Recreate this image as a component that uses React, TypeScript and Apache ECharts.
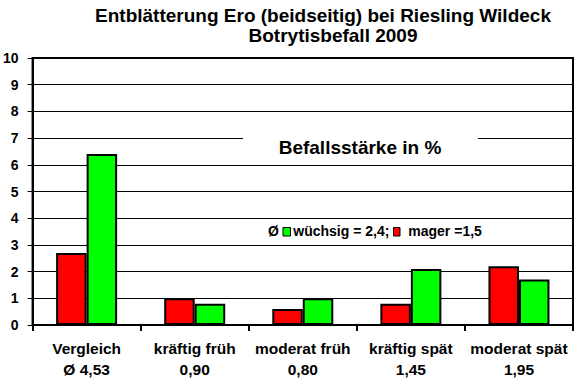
import React, { useEffect, useRef } from "react";
import * as echarts from "echarts";

const categories = ["Vergleich", "kräftig früh", "moderat früh", "kräftig spät", "moderat spät"];
const averages = ["Ø 4,53", "0,90", "0,80", "1,45", "1,95"];
const magerValues = [2.7, 1.0, 0.6, 0.8, 2.2];
const wuechsigValues = [6.4, 0.8, 1.0, 2.1, 1.7];
const titleLine1 = "Entblätterung Ero (beidseitig) bei Riesling Wildeck";
const titleLine2 = "Botrytisbefall 2009";
const boxText = "Befallsstärke in %";
const legendLabels = ["Ø", "wüchsig = 2,4;", "mager =1,5"];
const yMin = 0;
const yMax = 10;
const yInterval = 1;

const FONT = 'Arial, "Liberation Sans", sans-serif';

export default function App() {
  const ref = useRef<HTMLDivElement>(null);
  useEffect(() => {
    if (!ref.current) return;
    const chart = echarts.init(ref.current, null, { renderer: "svg" });
    const legendFont = `bold 14px ${FONT}`;
    chart.setOption({
      animation: false,
      backgroundColor: "#ffffff",
      textStyle: { fontFamily: FONT },
      grid: {
        left: 32,
        right: 7,
        top: 58,
        bottom: 64,
        show: true,
        borderColor: "#000",
        borderWidth: 2,
        backgroundColor: "transparent",
      },
      xAxis: {
        type: "category",
        data: categories,
        boundaryGap: true,
        axisLine: { show: true, lineStyle: { color: "#000", width: 2 } },
        axisTick: { show: true, length: 6, lineStyle: { color: "#000", width: 2 } },
        axisLabel: {
          color: "#000",
          fontFamily: FONT,
          fontWeight: "bold",
          fontSize: 15.5,
          lineHeight: 21,
          margin: 13,
          interval: 0,
          formatter: (v: string, i: number) => `${v}\n${averages[i]}`,
        },
        splitLine: { show: false },
      },
      yAxis: {
        type: "value",
        min: yMin,
        max: yMax,
        interval: yInterval,
        axisLine: { show: true, lineStyle: { color: "#000", width: 2 } },
        axisTick: { show: true, length: 5, lineStyle: { color: "#000", width: 1 } },
        axisLabel: {
          color: "#000",
          fontFamily: FONT,
          fontWeight: "bold",
          fontSize: 14,
          margin: 14,
        },
        splitLine: { show: true, lineStyle: { color: "#000", width: 1 } },
      },
      series: [
        {
          name: "mager",
          type: "bar",
          data: magerValues,
          barWidth: 30.5,
          barGap: "0%",
          itemStyle: { color: "#ff0000", borderColor: "#000", borderWidth: 2 },
        },
        {
          name: "wüchsig",
          type: "bar",
          data: wuechsigValues,
          barWidth: 30.5,
          barGap: "0%",
          itemStyle: { color: "#00ff00", borderColor: "#000", borderWidth: 2 },
        },
      ],
      graphic: [
        {
          type: "text",
          x: 323,
          y: 15.5,
          style: {
            text: titleLine1,
            fill: "#000",
            font: `bold 19px ${FONT}`,
            textAlign: "center",
            textVerticalAlign: "middle",
          },
        },
        {
          type: "text",
          x: 333,
          y: 35,
          style: {
            text: titleLine2,
            fill: "#000",
            font: `bold 19px ${FONT}`,
            textAlign: "center",
            textVerticalAlign: "middle",
          },
        },
        {
          type: "rect",
          shape: { x: 243, y: 122, width: 235, height: 36 },
          style: { fill: "#ffffff" },
          z: 100,
        },
        {
          type: "text",
          x: 360,
          y: 147.6,
          z: 101,
          style: {
            text: boxText,
            fill: "#000",
            font: `bold 19px ${FONT}`,
            textAlign: "center",
            textVerticalAlign: "middle",
          },
        },
        {
          type: "text",
          x: 268,
          y: 231,
          z: 101,
          style: {
            text: legendLabels[0],
            fill: "#000",
            font: legendFont,
            textAlign: "left",
            textVerticalAlign: "middle",
          },
        },
        {
          type: "rect",
          z: 101,
          shape: { x: 283, y: 227.5, width: 7.5, height: 8.5 },
          style: { fill: "#00ff00", stroke: "#000", lineWidth: 1 },
        },
        {
          type: "text",
          x: 293.3,
          y: 231,
          z: 101,
          style: {
            text: legendLabels[1],
            fill: "#000",
            font: legendFont,
            textAlign: "left",
            textVerticalAlign: "middle",
          },
        },
        {
          type: "rect",
          z: 101,
          shape: { x: 393.5, y: 227.5, width: 6.5, height: 8.5 },
          style: { fill: "#ff0000", stroke: "#000", lineWidth: 1 },
        },
        {
          type: "text",
          x: 408.3,
          y: 231,
          z: 101,
          style: {
            text: legendLabels[2],
            fill: "#000",
            font: legendFont,
            textAlign: "left",
            textVerticalAlign: "middle",
          },
        },
      ],
    });
    return () => chart.dispose();
  }, []);
  return (
    <div
      ref={ref}
      style={{ position: "fixed", left: 0, top: 0, width: 580, height: 389, background: "#fff" }}
    />
  );
}
